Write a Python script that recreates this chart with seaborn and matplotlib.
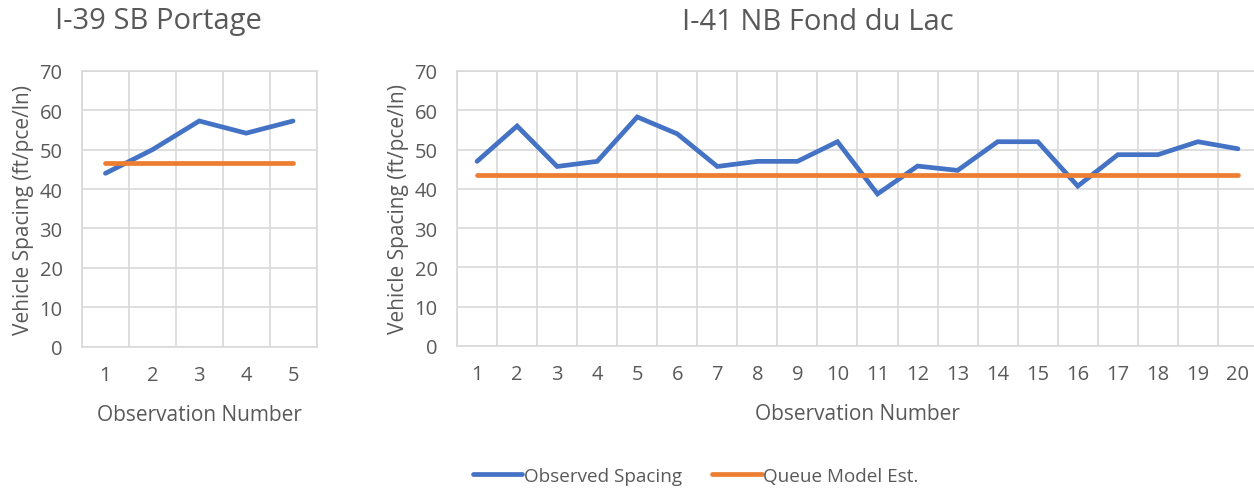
import matplotlib
matplotlib.use("Agg")
import matplotlib.pyplot as plt
import pandas as pd
import seaborn as sns
from matplotlib.lines import Line2D

# Data
PORTAGE_OBS = [1, 2, 3, 4, 5]
PORTAGE_SPACING = [44.0, 50.0, 57.3, 54.2, 57.3]
PORTAGE_MODEL = [46.5, 46.5, 46.5, 46.5, 46.5]

FDL_OBS = list(range(1, 21))
FDL_SPACING = [47.0, 56.0, 45.7, 47.0, 58.3, 54.0, 45.7, 47.0, 47.0, 52.0,
               38.7, 45.8, 44.7, 52.0, 52.0, 40.7, 48.7, 48.7, 52.0, 50.2]
FDL_MODEL = [43.5] * 20

SERIES = ["Observed Spacing", "Queue Model Est."]
COLORS = {"Observed Spacing": "#4472C4", "Queue Model Est.": "#ED7D31"}
TEXT = "#595959"
GRID = "#D9D9D9"


def make_frame(obs, spacing, model):
    a = pd.DataFrame({"obs": obs, "val": spacing, "series": SERIES[0]})
    b = pd.DataFrame({"obs": obs, "val": model, "series": SERIES[1]})
    return pd.concat([a, b], ignore_index=True)


def style_axes(ax, n):
    ax.set_xlim(0.5, n + 0.5)
    ax.set_ylim(0, 70)
    ax.set_yticks(range(0, 71, 10))
    ax.set_xticks(range(1, n + 1))
    ax.set_xticks([i + 0.5 for i in range(0, n + 1)], minor=True)
    ax.grid(False)
    ax.grid(True, which="minor", axis="x", color=GRID, lw=1.2)
    ax.grid(True, which="major", axis="y", color=GRID, lw=1.2)
    ax.set_axisbelow(True)
    for s in ax.spines.values():
        s.set_color(GRID)
        s.set_linewidth(1.2)
    ax.tick_params(which="both", length=0, colors=TEXT, labelsize=14.5)
    ax.tick_params(axis="x", pad=13)
    ax.tick_params(axis="y", pad=14)
    ax.set_xlabel("Observation Number", color=TEXT, fontsize=15, labelpad=14)
    ax.set_ylabel("Vehicle Spacing (ft/pce/ln)", color=TEXT, fontsize=15, labelpad=4)
    if ax.get_legend():
        ax.get_legend().remove()


sns.set_theme(style="white")
plt.rcParams["font.family"] = ["Open Sans", "DejaVu Sans"]

W, H = 1254, 489
fig = plt.figure(figsize=(W / 100, H / 100), dpi=100)

ax1 = fig.add_axes([82 / W, 1 - 347.5 / H, 234.5 / W, 275.5 / H])
ax2 = fig.add_axes([457 / W, 1 - 347 / H, 801 / W, 275 / H])

df1 = make_frame(PORTAGE_OBS, PORTAGE_SPACING, PORTAGE_MODEL)
df2 = make_frame(FDL_OBS, FDL_SPACING, FDL_MODEL)

for ax, df, n in [(ax1, df1, 5), (ax2, df2, 20)]:
    sns.lineplot(data=df, x="obs", y="val", hue="series", hue_order=SERIES,
                 palette=COLORS, linewidth=3.4, ax=ax)
    for ln in ax.lines:
        ln.set_solid_capstyle("round")
        ln.set_solid_joinstyle("miter")
    style_axes(ax, n)

fig.text(158 / W, 1 - 22 / H, "I-39 SB Portage", ha="center", va="center",
         color=TEXT, fontsize=21)
fig.text(818 / W, 1 - 22 / H, "I-41 NB Fond du Lac", ha="center", va="center",
         color=TEXT, fontsize=21)

handles = [Line2D([], [], color=COLORS[s], lw=3.4) for s in SERIES]
leg = fig.legend(handles, SERIES, loc="center", ncol=2,
                 bbox_to_anchor=(696 / W, 1 - 477 / H), frameon=False,
                 fontsize=13.6, handlelength=2.6, handletextpad=0.1,
                 columnspacing=1.6)
for t in leg.get_texts():
    t.set_color(TEXT)

fig.savefig("out.png", dpi=100)
